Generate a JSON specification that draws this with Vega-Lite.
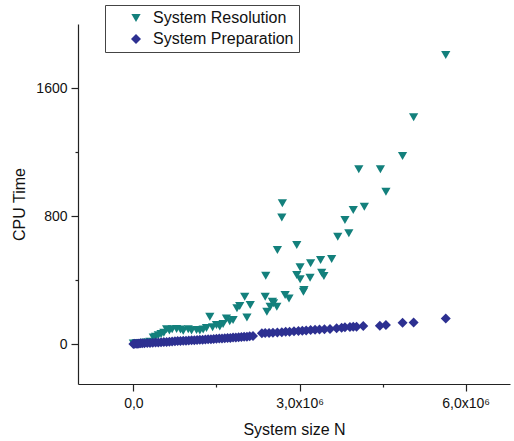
{
  "$schema": "https://vega.github.io/schema/vega-lite/v6.json",
  "width": 432,
  "height": 360,
  "autosize": {"type": "none"},
  "padding": {"left": 78, "top": 24, "right": 4, "bottom": 57},
  "config": {
    "view": {"stroke": null},
    "font": "Liberation Sans",
    "axis": {"domainColor": "#222", "tickColor": "#222", "labelColor": "#111", "titleColor": "#111", "labelFontSize": 14, "titleFontSize": 16, "titleFontWeight": "normal", "grid": false, "domainWidth": 1.2, "tickWidth": 1.2}
  },
  "data": {"values": [
    {"series": "System Resolution", "N": 0.0, "t": 3},
    {"series": "System Resolution", "N": 0.05, "t": 4},
    {"series": "System Resolution", "N": 0.1, "t": 5},
    {"series": "System Resolution", "N": 0.15, "t": 6},
    {"series": "System Resolution", "N": 0.2, "t": 8},
    {"series": "System Resolution", "N": 0.25, "t": 10},
    {"series": "System Resolution", "N": 0.3, "t": 14},
    {"series": "System Resolution", "N": 0.36, "t": 40},
    {"series": "System Resolution", "N": 0.4, "t": 45},
    {"series": "System Resolution", "N": 0.45, "t": 55},
    {"series": "System Resolution", "N": 0.5, "t": 62},
    {"series": "System Resolution", "N": 0.55, "t": 70},
    {"series": "System Resolution", "N": 0.6, "t": 92},
    {"series": "System Resolution", "N": 0.65, "t": 85},
    {"series": "System Resolution", "N": 0.7, "t": 92},
    {"series": "System Resolution", "N": 0.78, "t": 94},
    {"series": "System Resolution", "N": 0.85, "t": 90},
    {"series": "System Resolution", "N": 0.9, "t": 82},
    {"series": "System Resolution", "N": 0.99, "t": 92},
    {"series": "System Resolution", "N": 1.05, "t": 84},
    {"series": "System Resolution", "N": 1.14, "t": 88},
    {"series": "System Resolution", "N": 1.2, "t": 84},
    {"series": "System Resolution", "N": 1.26, "t": 90},
    {"series": "System Resolution", "N": 1.32, "t": 100},
    {"series": "System Resolution", "N": 1.38, "t": 171},
    {"series": "System Resolution", "N": 1.43, "t": 105},
    {"series": "System Resolution", "N": 1.5, "t": 119},
    {"series": "System Resolution", "N": 1.56, "t": 110},
    {"series": "System Resolution", "N": 1.62, "t": 125},
    {"series": "System Resolution", "N": 1.68, "t": 160},
    {"series": "System Resolution", "N": 1.74, "t": 142},
    {"series": "System Resolution", "N": 1.8, "t": 150},
    {"series": "System Resolution", "N": 1.87, "t": 223},
    {"series": "System Resolution", "N": 1.92, "t": 237},
    {"series": "System Resolution", "N": 2.01, "t": 296},
    {"series": "System Resolution", "N": 2.05, "t": 165},
    {"series": "System Resolution", "N": 2.11, "t": 244},
    {"series": "System Resolution", "N": 2.38, "t": 296},
    {"series": "System Resolution", "N": 2.39, "t": 427},
    {"series": "System Resolution", "N": 2.41, "t": 202},
    {"series": "System Resolution", "N": 2.47, "t": 233},
    {"series": "System Resolution", "N": 2.51, "t": 264},
    {"series": "System Resolution", "N": 2.53, "t": 254},
    {"series": "System Resolution", "N": 2.59, "t": 233},
    {"series": "System Resolution", "N": 2.6, "t": 588},
    {"series": "System Resolution", "N": 2.68, "t": 790},
    {"series": "System Resolution", "N": 2.69, "t": 879},
    {"series": "System Resolution", "N": 2.74, "t": 306},
    {"series": "System Resolution", "N": 2.81, "t": 285},
    {"series": "System Resolution", "N": 2.95, "t": 619},
    {"series": "System Resolution", "N": 2.95, "t": 431},
    {"series": "System Resolution", "N": 3.01, "t": 479},
    {"series": "System Resolution", "N": 3.01, "t": 404},
    {"series": "System Resolution", "N": 3.07, "t": 327},
    {"series": "System Resolution", "N": 3.08, "t": 337},
    {"series": "System Resolution", "N": 3.19, "t": 414},
    {"series": "System Resolution", "N": 3.2, "t": 504},
    {"series": "System Resolution", "N": 3.38, "t": 525},
    {"series": "System Resolution", "N": 3.4, "t": 446},
    {"series": "System Resolution", "N": 3.44, "t": 425},
    {"series": "System Resolution", "N": 3.58, "t": 531},
    {"series": "System Resolution", "N": 3.69, "t": 671},
    {"series": "System Resolution", "N": 3.82, "t": 775},
    {"series": "System Resolution", "N": 3.89, "t": 692},
    {"series": "System Resolution", "N": 3.97, "t": 837},
    {"series": "System Resolution", "N": 4.07, "t": 1092},
    {"series": "System Resolution", "N": 4.17, "t": 858},
    {"series": "System Resolution", "N": 4.46, "t": 1092},
    {"series": "System Resolution", "N": 4.56, "t": 952},
    {"series": "System Resolution", "N": 4.86, "t": 1175},
    {"series": "System Resolution", "N": 5.06, "t": 1417},
    {"series": "System Resolution", "N": 5.64, "t": 1806},
    {"series": "System Preparation", "N": 0.0, "t": 0},
    {"series": "System Preparation", "N": 0.02, "t": 1},
    {"series": "System Preparation", "N": 0.05, "t": 2},
    {"series": "System Preparation", "N": 0.08, "t": 2},
    {"series": "System Preparation", "N": 0.1, "t": 3},
    {"series": "System Preparation", "N": 0.13, "t": 4},
    {"series": "System Preparation", "N": 0.16, "t": 4},
    {"series": "System Preparation", "N": 0.2, "t": 5},
    {"series": "System Preparation", "N": 0.25, "t": 6},
    {"series": "System Preparation", "N": 0.3, "t": 7},
    {"series": "System Preparation", "N": 0.35, "t": 8},
    {"series": "System Preparation", "N": 0.4, "t": 9},
    {"series": "System Preparation", "N": 0.45, "t": 10},
    {"series": "System Preparation", "N": 0.5, "t": 11},
    {"series": "System Preparation", "N": 0.55, "t": 12},
    {"series": "System Preparation", "N": 0.6, "t": 13},
    {"series": "System Preparation", "N": 0.65, "t": 14},
    {"series": "System Preparation", "N": 0.7, "t": 16},
    {"series": "System Preparation", "N": 0.75, "t": 17},
    {"series": "System Preparation", "N": 0.8, "t": 18},
    {"series": "System Preparation", "N": 0.85, "t": 19},
    {"series": "System Preparation", "N": 0.9, "t": 20},
    {"series": "System Preparation", "N": 0.95, "t": 21},
    {"series": "System Preparation", "N": 1.0, "t": 22},
    {"series": "System Preparation", "N": 1.05, "t": 23},
    {"series": "System Preparation", "N": 1.1, "t": 24},
    {"series": "System Preparation", "N": 1.15, "t": 25},
    {"series": "System Preparation", "N": 1.2, "t": 26},
    {"series": "System Preparation", "N": 1.25, "t": 27},
    {"series": "System Preparation", "N": 1.3, "t": 28},
    {"series": "System Preparation", "N": 1.35, "t": 29},
    {"series": "System Preparation", "N": 1.4, "t": 30},
    {"series": "System Preparation", "N": 1.45, "t": 32},
    {"series": "System Preparation", "N": 1.5, "t": 33},
    {"series": "System Preparation", "N": 1.55, "t": 34},
    {"series": "System Preparation", "N": 1.6, "t": 35},
    {"series": "System Preparation", "N": 1.65, "t": 36},
    {"series": "System Preparation", "N": 1.7, "t": 37},
    {"series": "System Preparation", "N": 1.75, "t": 38},
    {"series": "System Preparation", "N": 1.8, "t": 40},
    {"series": "System Preparation", "N": 1.85, "t": 41},
    {"series": "System Preparation", "N": 1.9, "t": 42},
    {"series": "System Preparation", "N": 1.95, "t": 43},
    {"series": "System Preparation", "N": 2.0, "t": 45},
    {"series": "System Preparation", "N": 2.05, "t": 46},
    {"series": "System Preparation", "N": 2.1, "t": 48},
    {"series": "System Preparation", "N": 2.16, "t": 50},
    {"series": "System Preparation", "N": 2.32, "t": 67},
    {"series": "System Preparation", "N": 2.38, "t": 68},
    {"series": "System Preparation", "N": 2.45, "t": 69},
    {"series": "System Preparation", "N": 2.52, "t": 70},
    {"series": "System Preparation", "N": 2.6, "t": 72},
    {"series": "System Preparation", "N": 2.68, "t": 74},
    {"series": "System Preparation", "N": 2.75, "t": 76},
    {"series": "System Preparation", "N": 2.82, "t": 77},
    {"series": "System Preparation", "N": 2.9, "t": 79},
    {"series": "System Preparation", "N": 2.98, "t": 81},
    {"series": "System Preparation", "N": 3.05, "t": 83},
    {"series": "System Preparation", "N": 3.12, "t": 85},
    {"series": "System Preparation", "N": 3.2, "t": 87},
    {"series": "System Preparation", "N": 3.28, "t": 89},
    {"series": "System Preparation", "N": 3.36, "t": 91},
    {"series": "System Preparation", "N": 3.45, "t": 92},
    {"series": "System Preparation", "N": 3.55, "t": 94},
    {"series": "System Preparation", "N": 3.67, "t": 98},
    {"series": "System Preparation", "N": 3.76, "t": 101},
    {"series": "System Preparation", "N": 3.82, "t": 104},
    {"series": "System Preparation", "N": 3.91, "t": 106},
    {"series": "System Preparation", "N": 3.97, "t": 108},
    {"series": "System Preparation", "N": 4.03, "t": 108},
    {"series": "System Preparation", "N": 4.15, "t": 112},
    {"series": "System Preparation", "N": 4.45, "t": 114},
    {"series": "System Preparation", "N": 4.56, "t": 119},
    {"series": "System Preparation", "N": 4.86, "t": 133},
    {"series": "System Preparation", "N": 5.06, "t": 135},
    {"series": "System Preparation", "N": 5.64, "t": 160}
  ]},
  "mark": {"type": "point", "filled": true, "opacity": 1, "strokeWidth": 0},
  "encoding": {
    "x": {
      "field": "N", "type": "quantitative",
      "scale": {"domain": [-1, 6.8], "nice": false, "zero": false},
      "axis": {
        "title": "System size N",
        "values": [0, 1.5, 3, 4.5, 6],
        "labelExpr": "datum.value == 0 ? '0,0' : (datum.value == 3 ? '3,0x10⁶' : (datum.value == 6 ? '6,0x10⁶' : ''))",
        "tickSize": {"condition": {"test": "datum.value == 1.5 || datum.value == 4.5", "value": 3}, "value": 7},
        "labelPadding": 5,
        "titlePadding": 11
      }
    },
    "y": {
      "field": "t", "type": "quantitative",
      "scale": {"domain": [-250, 2000], "nice": false, "zero": false},
      "axis": {
        "title": "CPU Time",
        "values": [0, 400, 800, 1200, 1600],
        "labelExpr": "datum.value % 800 == 0 ? datum.label : ''",
        "format": "d",
        "tickSize": {"condition": {"test": "datum.value % 800 != 0", "value": 3}, "value": 7},
        "labelPadding": 4,
        "titlePadding": 8
      }
    },
    "color": {
      "field": "series", "type": "nominal",
      "scale": {"domain": ["System Resolution", "System Preparation"], "range": ["#13807c", "#2d3091"]},
      "legend": {
        "title": null, "orient": "none", "legendX": 27, "legendY": -19,
        "strokeColor": "#444", "fillColor": "white", "padding": 5,
        "labelFontSize": 16, "labelColor": "#111", "symbolOffset": 18, "labelOffset": 9,
        "rowPadding": 5, "symbolSize": 115, "symbolStrokeWidth": 0,
        "labelExpr": "datum.label + '\u00a0\u00a0\u00a0\u00a0\u00a0'"
      }
    },
    "shape": {
      "field": "series", "type": "nominal",
      "scale": {"domain": ["System Resolution", "System Preparation"], "range": ["triangle-down", "diamond"]}
    },
    "size": {
      "field": "series", "type": "nominal",
      "scale": {"domain": ["System Resolution", "System Preparation"], "range": [85, 100]},
      "legend": null
    }
  }
}
